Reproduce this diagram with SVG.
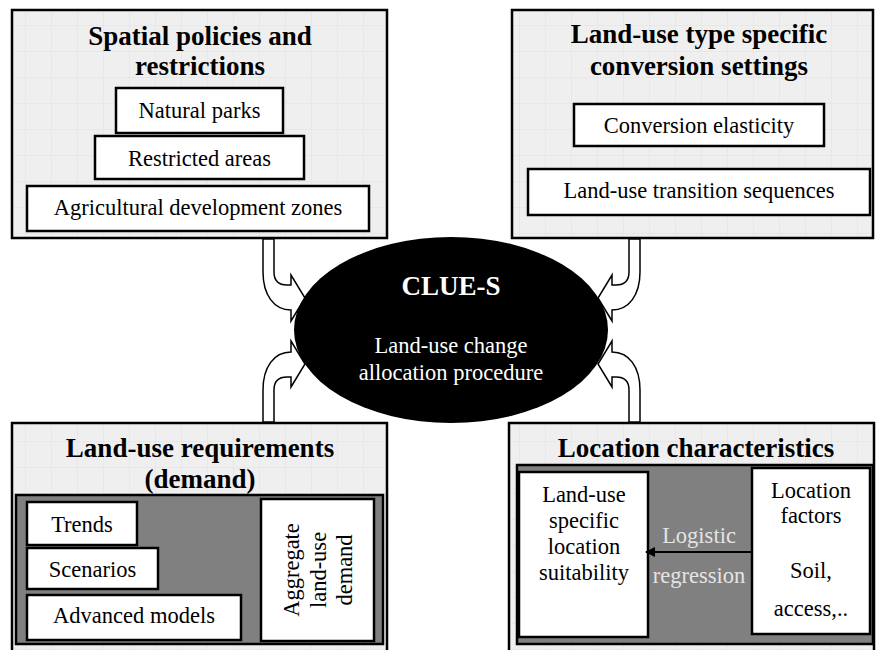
<svg xmlns="http://www.w3.org/2000/svg" width="876" height="650" viewBox="0 0 876 650">
  <defs>
    <pattern id="grid" width="26" height="26" patternUnits="userSpaceOnUse">
      <rect width="26" height="26" fill="#efefef"/>
      <path d="M26 0 V26 M0 26 H26" stroke="#e2e2e2" stroke-width="1" fill="none"/>
    </pattern>
    <marker id="ah" viewBox="0 0 10 10" refX="9" refY="5" markerWidth="10" markerHeight="10" markerUnits="userSpaceOnUse" orient="auto">
      <path d="M0 0 L10 5 L0 10 Z" fill="#000"/>
    </marker>
  </defs>
  <style>
    .outer { fill: url(#grid); stroke: #000; stroke-width: 2.5; }
    .panel { fill: #808080; stroke: #000; stroke-width: 2.5; }
    .wbox { fill: #fff; stroke: #000; stroke-width: 2.5; }
    .title { font-family: "Liberation Serif", "Times New Roman", serif; font-weight: bold; font-size: 27px; text-anchor: middle; fill: #000; }
    .lbl { font-family: "Liberation Serif", "Times New Roman", serif; font-size: 22.5px; text-anchor: middle; fill: #000; }
    .wlbl { font-family: "Liberation Serif", "Times New Roman", serif; font-size: 22.5px; text-anchor: middle; fill: #fff; }
    .glbl { font-family: "Liberation Serif", "Times New Roman", serif; font-size: 22.5px; text-anchor: middle; fill: #e4e4e4; }
    .conn { fill: #fff; stroke: #000; stroke-width: 1.5; stroke-linejoin: miter; }
  </style>

  <g id="spatial-policies">
    <rect class="outer" x="12" y="10" width="375" height="228"/>
    <text class="title" x="200" y="45">Spatial policies and</text>
    <text class="title" x="200" y="75">restrictions</text>
    <g id="natural-parks">
      <rect class="wbox" x="116" y="88" width="167" height="45"/>
      <text class="lbl" x="199.5" y="118">Natural parks</text>
    </g>
    <g id="restricted-areas">
      <rect class="wbox" x="95" y="136" width="209" height="43"/>
      <text class="lbl" x="199.5" y="166">Restricted areas</text>
    </g>
    <g id="agri-zones">
      <rect class="wbox" x="27" y="186" width="342" height="45"/>
      <text class="lbl" x="198" y="215">Agricultural development zones</text>
    </g>
  </g>

  <g id="conversion-settings">
    <rect class="outer" x="512" y="10" width="361" height="228"/>
    <text class="title" x="699" y="43">Land-use type specific</text>
    <text class="title" x="699" y="75">conversion settings</text>
    <g id="conversion-elasticity">
      <rect class="wbox" x="574" y="104" width="250" height="42"/>
      <text class="lbl" x="699" y="133">Conversion elasticity</text>
    </g>
    <g id="transition-sequences">
      <rect class="wbox" x="528" y="169" width="342" height="46"/>
      <text class="lbl" x="699" y="198">Land-use transition sequences</text>
    </g>
  </g>

  <g id="land-use-requirements">
    <rect class="outer" x="12" y="423" width="375" height="230"/>
    <text class="title" x="200" y="457">Land-use requirements</text>
    <text class="title" x="200" y="488">(demand)</text>
    <rect class="panel" x="16" y="495" width="367" height="149"/>
    <g id="trends">
      <rect class="wbox" x="27" y="502" width="110" height="43"/>
      <text class="lbl" x="82" y="532">Trends</text>
    </g>
    <g id="scenarios">
      <rect class="wbox" x="27" y="548" width="131" height="41"/>
      <text class="lbl" x="92.5" y="577">Scenarios</text>
    </g>
    <g id="advanced-models">
      <rect class="wbox" x="27" y="595" width="214" height="45"/>
      <text class="lbl" x="134" y="623">Advanced models</text>
    </g>
    <g id="aggregate-demand">
      <rect class="wbox" x="261" y="499" width="113" height="142"/>
      <g transform="translate(0,570) rotate(-90)">
        <text class="lbl" x="0" y="299">Aggregate</text>
        <text class="lbl" x="0" y="326">land-use</text>
        <text class="lbl" x="0" y="352">demand</text>
      </g>
    </g>
  </g>

  <g id="location-characteristics">
    <rect class="outer" x="509" y="423" width="365" height="230"/>
    <text class="title" x="696" y="457">Location characteristics</text>
    <rect class="panel" x="517" y="465" width="356" height="179"/>
    <g id="suitability">
      <rect class="wbox" x="519" y="472" width="129" height="165"/>
      <text class="lbl" x="584" y="502">Land-use</text>
      <text class="lbl" x="584" y="528">specific</text>
      <text class="lbl" x="584" y="554">location</text>
      <text class="lbl" x="584" y="580">suitability</text>
    </g>
    <g id="location-factors">
      <rect class="wbox" x="752" y="468" width="118" height="166"/>
      <text class="lbl" x="811" y="498">Location</text>
      <text class="lbl" x="811" y="523">factors</text>
      <text class="lbl" x="811" y="578">Soil,</text>
      <text class="lbl" x="811" y="616">access,..</text>
    </g>
    <g id="logistic-regression">
      <line x1="752" y1="552" x2="646" y2="552" stroke="#000" stroke-width="2" marker-end="url(#ah)"/>
      <text class="glbl" x="699" y="543">Logistic</text>
      <text class="glbl" x="699" y="583">regression</text>
    </g>
  </g>

  <g id="connectors">
    <path class="conn" d="M274 239 L274 272 Q274 285 287 285 L291 285 L291 275 L305 298 L291 321 L291 310 C274 310 263 295 263 272 L263 239 Z"/>
    <path class="conn" d="M274 422 L274 390 Q274 377 287 377 L291 377 L291 387 L305 364 L291 341 L291 352 C274 352 263 367 263 390 L263 422 Z"/>
    <path class="conn" d="M629 239 L629 272 Q629 285 616 285 L612 285 L612 275 L598 298 L612 321 L612 310 C629 310 640 295 640 272 L640 239 Z"/>
    <path class="conn" d="M629 422 L629 390 Q629 377 616 377 L612 377 L612 387 L598 364 L612 341 L612 352 C629 352 640 367 640 390 L640 422 Z"/>
  </g>

  <g id="clue-s">
    <ellipse cx="451" cy="330" rx="157" ry="93" fill="#000"/>
    <text class="title" x="451" y="295" fill="#fff" style="fill:#fff">CLUE-S</text>
    <text class="wlbl" x="451" y="353">Land-use change</text>
    <text class="wlbl" x="451" y="380">allocation procedure</text>
  </g>
</svg>
